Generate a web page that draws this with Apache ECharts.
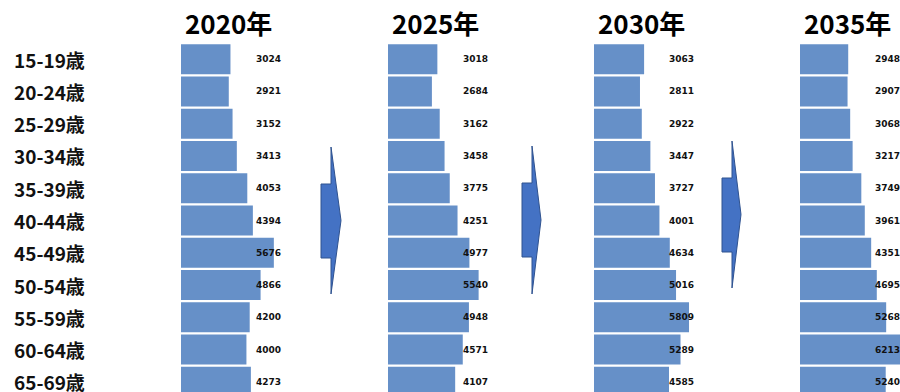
<!DOCTYPE html>
<html>
<head>
<meta charset="utf-8">
<script src="https://cdn.jsdelivr.net/npm/echarts@6/dist/echarts.min.js"></script>
<style>
html,body{margin:0;padding:0;background:#fff;overflow:hidden;width:900px;height:392px;}
#chart{width:930px;height:410px;}
</style>
</head>
<body>
<div id="chart"></div>
<script>
// ---- data ----
const categories = ['15-19歳','20-24歳','25-29歳','30-34歳','35-39歳','40-44歳','45-49歳','50-54歳','55-59歳','60-64歳','65-69歳'];
const years = ['2020年','2025年','2030年','2035年'];
const v2020 = [3024, 2921, 3152, 3413, 4053, 4394, 5676, 4866, 4200, 4000, 4273];
const v2025 = [3018, 2684, 3162, 3458, 3775, 4251, 4977, 5540, 4948, 4571, 4107];
const v2030 = [3063, 2811, 2922, 3447, 3727, 4001, 4634, 5016, 5809, 5289, 4585];
const v2035 = [2948, 2907, 3068, 3217, 3749, 3961, 4351, 4695, 5268, 6213, 5240];
const seriesValues = [v2020, v2025, v2030, v2035];

// ---- layout ----
const gridLefts = [181, 388, 594, 800];
const gridTop = 43, gridHeight = 355, gridWidth = 114.5;
const xMax = 7000;
const barColor = '#6690C8';
const cjk = '"Noto Sans CJK JP", "Noto Sans", sans-serif';

const grids = [], xAxes = [], yAxes = [], series = [], graphics = [];
seriesValues.forEach((vals, i) => {
  grids.push({left: gridLefts[i], top: gridTop, width: gridWidth, height: gridHeight, containLabel: false});
  xAxes.push({type: 'value', gridIndex: i, min: 0, max: xMax, show: false});
  yAxes.push({
    type: 'category', gridIndex: i, data: categories, inverse: true,
    axisLine: {show: false}, axisTick: {show: false}, splitLine: {show: false},
    axisLabel: i === 0 ? {
      show: true, align: 'left', margin: gridLefts[0] - 14,
      fontSize: 19, fontWeight: 'bold', color: '#111', fontFamily: cjk
    } : {show: false}
  });
  series.push({
    type: 'bar', xAxisIndex: i, yAxisIndex: i, data: vals,
    barWidth: 30, itemStyle: {color: barColor},
    silent: true, animation: false,
    label: {
      show: true, position: [75, '50%'], verticalAlign: 'middle', align: 'left',
      fontSize: 9, fontWeight: 'bold', color: '#111',
      fontFamily: '"DejaVu Sans", Verdana, sans-serif'
    }
  });
  graphics.push({
    type: 'text', left: gridLefts[i] + 4, top: 9,
    style: {text: years[i], fontSize: 26, fontWeight: 'bold', fill: '#000', fontFamily: cjk}
  });
});

// decorative arrows between the groups
const arrows = [
  {x0: 321, x1: 331, x2: 341, sy0: 184, sy1: 258, hy0: 147, hy1: 294},
  {x0: 522, x1: 532, x2: 541, sy0: 183, sy1: 257, hy0: 146, hy1: 294},
  {x0: 722, x1: 732, x2: 741, sy0: 178, sy1: 252, hy0: 141, hy1: 288}
];
arrows.forEach(a => {
  const ty = (a.hy0 + a.hy1) / 2;
  graphics.push({
    type: 'polygon', silent: true,
    shape: {points: [[a.x0, a.sy0], [a.x1, a.sy0], [a.x1, a.hy0], [a.x2, ty], [a.x1, a.hy1], [a.x1, a.sy1], [a.x0, a.sy1]]},
    style: {fill: '#4472C4', stroke: '#2F528F', lineWidth: 1}
  });
});

const chart = echarts.init(document.getElementById('chart'), null, {renderer: 'svg'});
chart.setOption({
  animation: false,
  grid: grids, xAxis: xAxes, yAxis: yAxes, series: series,
  graphic: graphics
});
</script>
</body>
</html>
